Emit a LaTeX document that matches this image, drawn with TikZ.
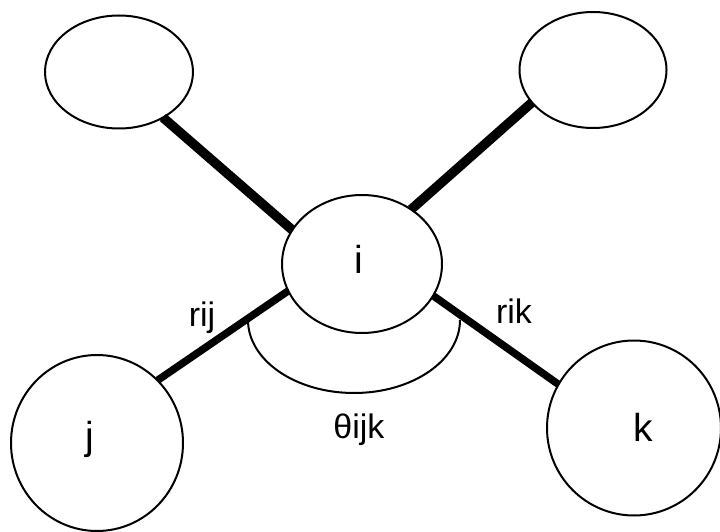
\documentclass[tikz,border=0pt]{standalone}
\usepackage{fontspec}
\setmainfont{Liberation Sans}
\usetikzlibrary{shapes.geometric}
\begin{document}
\begin{tikzpicture}[x=1pt,y=-1pt,
  atom/.style={ellipse,draw,line width=2pt,inner sep=0pt,outer sep=0pt},
  bigbond/.style={line width=9.5pt},
  bond/.style={line width=7.5pt},
  atomlabel/.style={anchor=base,inner sep=0pt,font=\fontsize{39}{44}\selectfont},
  smalllabel/.style={anchor=base,inner sep=0pt,font=\fontsize{34}{40}\selectfont}]
\useasboundingbox (0,0) rectangle (720,532);
\node[atom,minimum width=148pt,minimum height=113pt] (tl) at (119,72) {};
\node[atom,minimum width=147pt,minimum height=116pt] (tr) at (593,70) {};
\node[atom,minimum width=160pt,minimum height=138pt] (i) at (362,264) {};
\node[atom,minimum width=172pt,minimum height=176pt] (j) at (97,443) {};
\node[atom,minimum width=174pt,minimum height=175pt] (k) at (634,428) {};
\draw[bigbond] (tl.-46) -- (i.154);
\draw[bigbond] (tr.208) -- (i.48);
\draw[bond] (i.200) -- (j.46);
\draw[bond] (i.-24) -- (k.150);
\coordinate (arcstart) at (248,320);
\draw[line width=2pt] (arcstart) arc[start angle=180,end angle=0,x radius=106,y radius=73];
\node[atomlabel] (li) at (359,273) {i};
\node[atomlabel] (lj) at (90,449) {j};
\node[atomlabel] (lk) at (643,441) {k};
\node[smalllabel] (lrij) at (202,326) {rij};
\node[smalllabel] (lrik) at (514,323) {rik};
\node[smalllabel] (ltheta) at (359,438) {θijk};
\end{tikzpicture}
\end{document}
